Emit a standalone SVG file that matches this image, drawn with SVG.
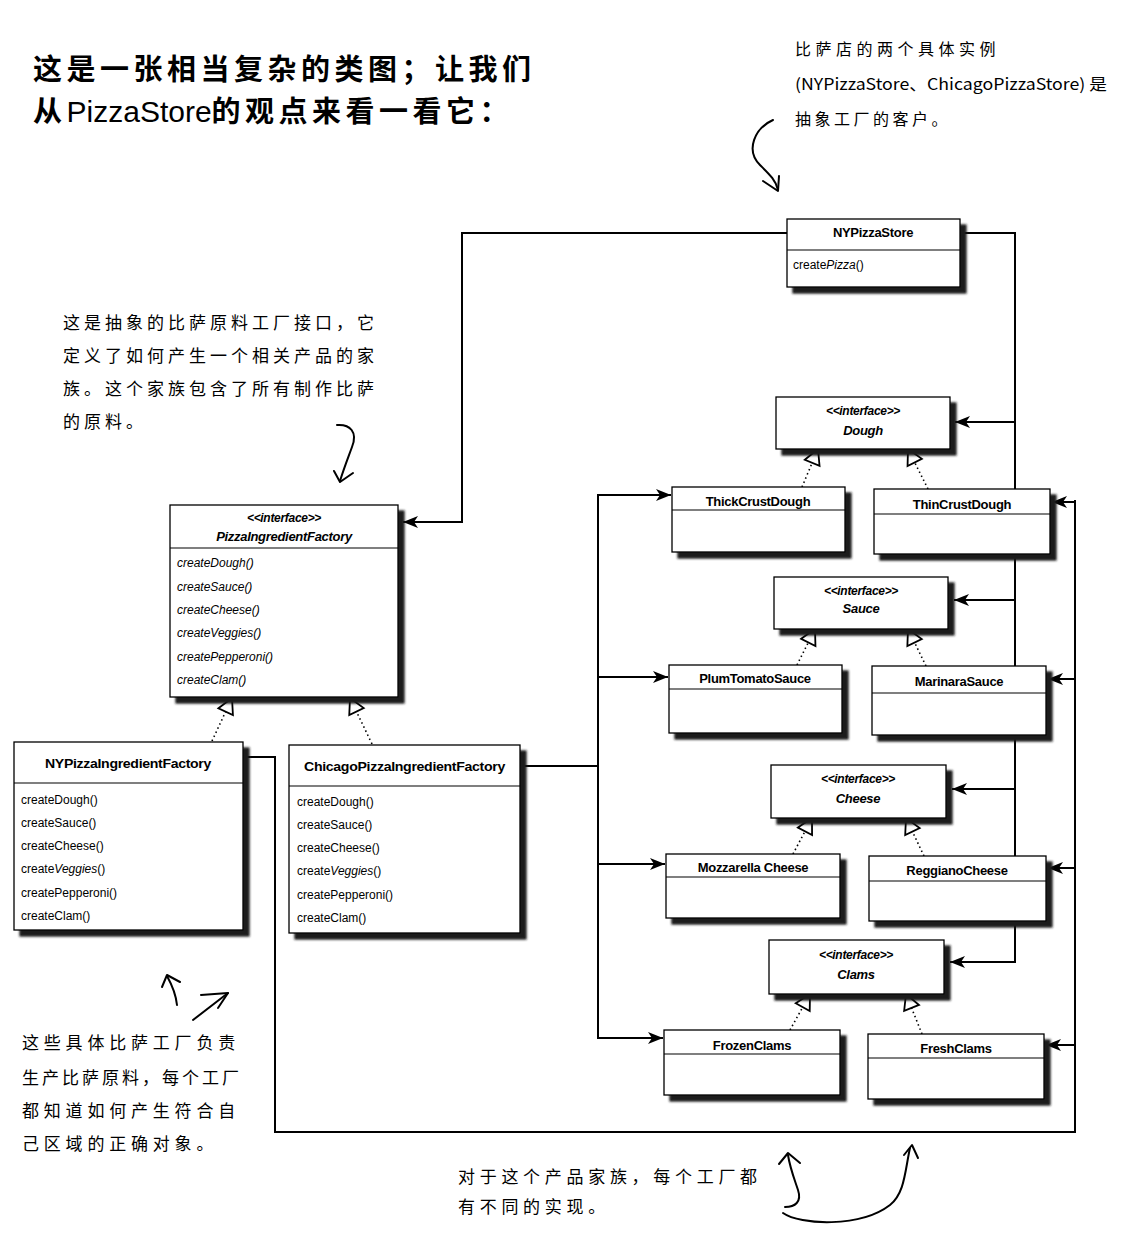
<svg xmlns="http://www.w3.org/2000/svg" width="1121" height="1249" viewBox="0 0 1121 1249">
<style>
.bg{fill:#fff}
.box{fill:#fff;stroke:#000;stroke-width:1.3}
.hl{stroke:#000;stroke-width:1.2}
.t{font-family:"Liberation Sans",Arial,sans-serif;font-size:12px;fill:#000}
.tt{font-family:"Liberation Sans",Arial,sans-serif;font-size:13px;font-weight:bold;letter-spacing:-0.3px;fill:#000}
.st{font-size:12px}
.it{font-style:italic}
.conn{fill:none;stroke:#000;stroke-width:2}
.dot{fill:none;stroke:#000;stroke-width:1.6;stroke-dasharray:1.5 3}
.hand{fill:none;stroke:#000;stroke-width:2;stroke-linecap:round;stroke-linejoin:round}
.note{font-family:"Noto Sans CJK SC","Noto Sans",sans-serif;fill:#000}
.title{font-family:"Noto Sans CJK SC","Noto Sans",sans-serif;font-size:29px;font-weight:bold;letter-spacing:4.5px;fill:#000}
</style>
<defs>
<filter id="sh" x="-10%" y="-10%" width="130%" height="130%">
<feGaussianBlur in="SourceAlpha" stdDeviation="1.3"/>
<feOffset dx="6" dy="6" result="o"/>
<feFlood flood-color="#1a1a1a"/>
<feComposite in2="o" operator="in"/>
<feMerge><feMergeNode/><feMergeNode in="SourceGraphic"/></feMerge>
</filter>
<marker id="arr" markerUnits="userSpaceOnUse" markerWidth="16" markerHeight="12" viewBox="0 0 16 12" refX="15" refY="6" orient="auto">
<path d="M0,0 L15,6 L0,12 L4,6 z" fill="#000" stroke="none"/>
</marker>
<marker id="tri" markerUnits="userSpaceOnUse" markerWidth="20" markerHeight="20" viewBox="0 0 20 20" refX="17" refY="10" orient="auto">
<path d="M2,2 L17,10 L2,18 z" fill="#fff" stroke="#000" stroke-width="1.8" stroke-dasharray="none"/>
</marker>
</defs>
<rect class="bg" x="0" y="0" width="1121" height="1249"/>

<g id="title">
<text class="title" x="33" y="80">这是一张相当复杂的类图；让我们</text>
<text class="title" x="33" y="122">从<tspan font-family="Liberation Sans,Arial,sans-serif" font-weight="normal" letter-spacing="0" style="font-size:30px;letter-spacing:0">PizzaStore</tspan>的观点来看一看它：</text>
</g>

<g id="notes">
<text class="note" x="795" y="55" style="font-size:16px;letter-spacing:4.5px">比萨店的两个具体实例</text>
<text class="note" x="795" y="90" style="font-size:16px" textLength="312" lengthAdjust="spacingAndGlyphs">(NYPizzaStore、ChicagoPizzaStore) 是</text>
<text class="note" x="795" y="125" style="font-size:16px;letter-spacing:3.5px">抽象工厂的客户。</text>
<path class="hand" d="M773,120 C755,128 745,150 760,165 C768,173 776,180 778,190"/>
<path class="hand" d="M763,181 L778,191 L779,176"/>

<text class="note" x="63" y="329" style="font-size:17px;letter-spacing:4px">这是抽象的比萨原料工厂接口，它</text>
<text class="note" x="63" y="362" style="font-size:17px;letter-spacing:4px">定义了如何产生一个相关产品的家</text>
<text class="note" x="63" y="395" style="font-size:17px;letter-spacing:4px">族。这个家族包含了所有制作比萨</text>
<text class="note" x="63" y="428" style="font-size:17px;letter-spacing:4px">的原料。</text>
<path class="hand" d="M337,425 C350,424 358,432 352,447 C348,458 344,468 340,481"/>
<path class="hand" d="M334,471 L340,482 L353,473"/>

<text class="note" x="22" y="1049" style="font-size:17px;letter-spacing:4.8px">这些具体比萨工厂负责</text>
<text class="note" x="22" y="1084" style="font-size:17px;letter-spacing:3px">生产比萨原料，每个工厂</text>
<text class="note" x="22" y="1117" style="font-size:17px;letter-spacing:4.8px">都知道如何产生符合自</text>
<text class="note" x="22" y="1150" style="font-size:17px;letter-spacing:4.8px">己区域的正确对象。</text>
<path class="hand" d="M177,1005 C176,995 172,985 167,976"/>
<path class="hand" d="M162,987 L167,975 L180,982"/>
<path class="hand" d="M193,1020 L228,993"/>
<path class="hand" d="M201,995 L228,993 L218,1008"/>

<text class="note" x="458" y="1183" style="font-size:17px;letter-spacing:4.7px">对于这个产品家族，每个工厂都</text>
<text class="note" x="458" y="1213" style="font-size:17px;letter-spacing:4.7px">有不同的实现。</text>
<path class="hand" d="M785,1207 C795,1207 802,1202 798,1190 C794,1178 790,1168 788,1155"/>
<path class="hand" d="M779,1164 L788,1153 L800,1163"/>
<path class="hand" d="M783,1213 C800,1225 860,1228 890,1205 C905,1193 905,1170 910,1148"/>
<path class="hand" d="M904,1155 L912,1145 L918,1158"/>
</g>

<g id="connectors">
<path class="conn" d="M787,233 H462 V522 H403" marker-end="url(#arr)"/>
<path class="conn" d="M960,233 H1015 V962 H950" marker-end="url(#arr)"/>
<path class="conn" d="M1015,422 H955" marker-end="url(#arr)"/>
<path class="conn" d="M1015,600 H954" marker-end="url(#arr)"/>
<path class="conn" d="M1015,789 H952" marker-end="url(#arr)"/>
<path class="conn" d="M243,757 H275 V1132 H1075 V500"/>
<path class="conn" d="M1075,502 H1052" marker-end="url(#arr)"/>
<path class="conn" d="M1075,679 H1048" marker-end="url(#arr)"/>
<path class="conn" d="M1075,868 H1048" marker-end="url(#arr)"/>
<path class="conn" d="M1075,1045 H1046" marker-end="url(#arr)"/>
<path class="conn" d="M520,766 H598"/>
<path class="conn" d="M598,495 V1038"/>
<path class="conn" d="M597,495 H671" marker-end="url(#arr)"/>
<path class="conn" d="M598,677 H668" marker-end="url(#arr)"/>
<path class="conn" d="M598,864 H665" marker-end="url(#arr)"/>
<path class="conn" d="M597,1038 H663" marker-end="url(#arr)"/>
<path class="dot" d="M212,741 L232,698" marker-end="url(#tri)"/>
<path class="dot" d="M372,744 L350,698" marker-end="url(#tri)"/>
<path class="dot" d="M802,487 L818,449" marker-end="url(#tri)"/>
<path class="dot" d="M928,489 L908,449" marker-end="url(#tri)"/>
<path class="dot" d="M797,665 L815,629" marker-end="url(#tri)"/>
<path class="dot" d="M926,666 L908,629" marker-end="url(#tri)"/>
<path class="dot" d="M793,854 L812,818" marker-end="url(#tri)"/>
<path class="dot" d="M924,856 L906,818" marker-end="url(#tri)"/>
<path class="dot" d="M790,1030 L810,994" marker-end="url(#tri)"/>
<path class="dot" d="M922,1034 L906,994" marker-end="url(#tri)"/>
</g>

<g id="NYPizzaStore">
<rect class="box" x="787" y="219" width="173" height="68" filter="url(#sh)"/>
<line class="hl" x1="787" y1="250" x2="960" y2="250"/>
<text class="tt" x="873" y="237" text-anchor="middle">NYPizzaStore</text>
<text class="t" x="793" y="269">create<tspan class="it">Pizza</tspan>()</text>
</g>

<g id="PizzaIngredientFactory">
<rect class="box" x="170" y="505" width="228" height="192" filter="url(#sh)"/>
<line class="hl" x1="170" y1="548" x2="398" y2="548"/>
<text class="tt it st" x="284" y="522" text-anchor="middle">&lt;&lt;interface&gt;&gt;</text>
<text class="tt it" x="284" y="541" text-anchor="middle">PizzaIngredientFactory</text>
<text class="t it" x="177" y="567">createDough()</text>
<text class="t it" x="177" y="591">createSauce()</text>
<text class="t it" x="177" y="614">createCheese()</text>
<text class="t it" x="177" y="637">createVeggies()</text>
<text class="t it" x="177" y="661">createPepperoni()</text>
<text class="t it" x="177" y="684">createClam()</text>
</g>

<g id="NYPizzaIngredientFactory">
<rect class="box" x="14" y="742" width="229" height="188" filter="url(#sh)"/>
<line class="hl" x1="14" y1="783" x2="243" y2="783"/>
<text class="tt" x="45" y="768" textLength="166" lengthAdjust="spacingAndGlyphs">NYPizzaIngredientFactory</text>
<text class="t" x="21" y="804">createDough()</text>
<text class="t" x="21" y="827">createSauce()</text>
<text class="t" x="21" y="850">createCheese()</text>
<text class="t" x="21" y="873">create<tspan class="it">Veggies</tspan>()</text>
<text class="t" x="21" y="897">createPepperoni()</text>
<text class="t" x="21" y="920">createClam()</text>
</g>

<g id="ChicagoPizzaIngredientFactory">
<rect class="box" x="289" y="745" width="231" height="188" filter="url(#sh)"/>
<line class="hl" x1="289" y1="786" x2="520" y2="786"/>
<text class="tt" x="304" y="771" textLength="201" lengthAdjust="spacingAndGlyphs">ChicagoPizzaIngredientFactory</text>
<text class="t" x="297" y="806">createDough()</text>
<text class="t" x="297" y="829">createSauce()</text>
<text class="t" x="297" y="852">createCheese()</text>
<text class="t" x="297" y="875">create<tspan class="it">Veggies</tspan>()</text>
<text class="t" x="297" y="899">createPepperoni()</text>
<text class="t" x="297" y="922">createClam()</text>
</g>

<g id="Dough">
<rect class="box" x="776" y="397" width="174" height="52" filter="url(#sh)"/>
<text class="tt it st" x="863" y="415" text-anchor="middle">&lt;&lt;interface&gt;&gt;</text>
<text class="tt it" x="863" y="435" text-anchor="middle">Dough</text>
</g>
<g id="ThickCrustDough">
<rect class="box" x="672" y="487" width="173" height="65" filter="url(#sh)"/>
<line class="hl" x1="672" y1="510" x2="845" y2="510"/>
<text class="tt" x="758" y="506" text-anchor="middle">ThickCrustDough</text>
</g>
<g id="ThinCrustDough">
<rect class="box" x="874" y="489" width="176" height="65" filter="url(#sh)"/>
<line class="hl" x1="874" y1="514" x2="1050" y2="514"/>
<text class="tt" x="962" y="509" text-anchor="middle">ThinCrustDough</text>
</g>

<g id="Sauce">
<rect class="box" x="774" y="577" width="174" height="52" filter="url(#sh)"/>
<text class="tt it st" x="861" y="595" text-anchor="middle">&lt;&lt;interface&gt;&gt;</text>
<text class="tt it" x="861" y="613" text-anchor="middle">Sauce</text>
</g>
<g id="PlumTomatoSauce">
<rect class="box" x="669" y="665" width="173" height="68" filter="url(#sh)"/>
<line class="hl" x1="669" y1="689" x2="842" y2="689"/>
<text class="tt" x="755" y="683" text-anchor="middle">PlumTomatoSauce</text>
</g>
<g id="MarinaraSauce">
<rect class="box" x="872" y="666" width="174" height="69" filter="url(#sh)"/>
<line class="hl" x1="872" y1="693" x2="1046" y2="693"/>
<text class="tt" x="959" y="686" text-anchor="middle">MarinaraSauce</text>
</g>

<g id="Cheese">
<rect class="box" x="771" y="765" width="175" height="53" filter="url(#sh)"/>
<text class="tt it st" x="858" y="783" text-anchor="middle">&lt;&lt;interface&gt;&gt;</text>
<text class="tt it" x="858" y="803" text-anchor="middle">Cheese</text>
</g>
<g id="MozzarellaCheese">
<rect class="box" x="666" y="854" width="174" height="64" filter="url(#sh)"/>
<line class="hl" x1="666" y1="877" x2="840" y2="877"/>
<text class="tt" x="753" y="872" text-anchor="middle">Mozzarella Cheese</text>
</g>
<g id="ReggianoCheese">
<rect class="box" x="869" y="856" width="177" height="65" filter="url(#sh)"/>
<line class="hl" x1="869" y1="881" x2="1046" y2="881"/>
<text class="tt" x="957" y="875" text-anchor="middle">ReggianoCheese</text>
</g>

<g id="Clams">
<rect class="box" x="769" y="940" width="175" height="54" filter="url(#sh)"/>
<text class="tt it st" x="856" y="959" text-anchor="middle">&lt;&lt;interface&gt;&gt;</text>
<text class="tt it" x="856" y="979" text-anchor="middle">Clams</text>
</g>
<g id="FrozenClams">
<rect class="box" x="664" y="1030" width="176" height="65" filter="url(#sh)"/>
<line class="hl" x1="664" y1="1054" x2="840" y2="1054"/>
<text class="tt" x="752" y="1050" text-anchor="middle">FrozenClams</text>
</g>
<g id="FreshClams">
<rect class="box" x="868" y="1034" width="176" height="65" filter="url(#sh)"/>
<line class="hl" x1="868" y1="1058" x2="1044" y2="1058"/>
<text class="tt" x="956" y="1053" text-anchor="middle">FreshClams</text>
</g>
</svg>
